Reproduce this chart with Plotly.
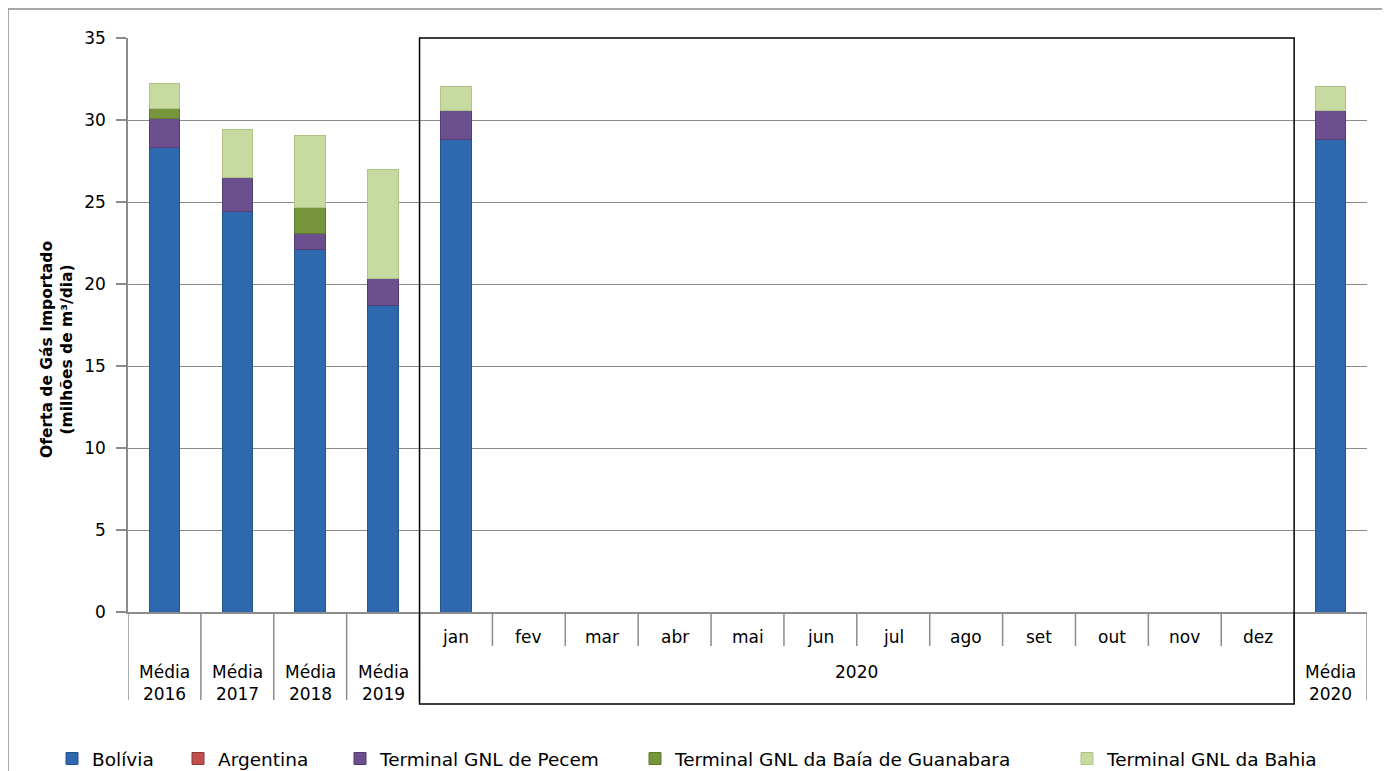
import plotly.graph_objects as go

categories = ["Média 2016", "Média 2017", "Média 2018", "Média 2019",
              "jan", "fev", "mar", "abr", "mai", "jun", "jul", "ago",
              "set", "out", "nov", "dez", "Média 2020"]
month_labels = ["jan", "fev", "mar", "abr", "mai", "jun", "jul", "ago",
                "set", "out", "nov", "dez"]
media_labels = ["Média<br>2016", "Média<br>2017", "Média<br>2018", "Média<br>2019"]
media_2020_label = "Média<br>2020"
group_label = "2020"
y_title = "<b>Oferta de Gás Importado<br>(milhões de m³/dia)</b>"

bolivia = [28.3, 24.4, 22.1, 18.7, 28.8, 0, 0, 0, 0, 0, 0, 0, 0, 0, 0, 0, 28.8]
argentina = [0, 0, 0, 0, 0, 0, 0, 0, 0, 0, 0, 0, 0, 0, 0, 0, 0]
pecem = [1.8, 2.1, 0.95, 1.65, 1.75, 0, 0, 0, 0, 0, 0, 0, 0, 0, 0, 0, 1.75]
guanabara = [0.6, 0, 1.6, 0, 0, 0, 0, 0, 0, 0, 0, 0, 0, 0, 0, 0, 0]
bahia = [1.5, 2.95, 4.4, 6.65, 1.5, 0, 0, 0, 0, 0, 0, 0, 0, 0, 0, 0, 1.5]

series = [
    ("Bolívia", bolivia, "#2E69B0", "#24558F"),
    ("Argentina", argentina, "#C0504D", "#8C3836"),
    ("Terminal GNL de Pecem", pecem, "#6B4F8E", "#533C70"),
    ("Terminal GNL da Baía de Guanabara", guanabara, "#77953B", "#5E7A2E"),
    ("Terminal GNL da Bahia", bahia, "#C7DA9F", "#AFC288"),
]
legend_marker_px = [67, 193, 355, 650, 1082]

FONT = "DejaVu Sans"
OFF = 8  # page body margin
PL, PR, PT, PB = 128, 1367, 38, 612  # plot area in page pixels
W, H = 1390 - OFF, 771 - OFF
PW = PR - PL
PH = PB - PT


def py(pix):
    return (PB - pix) / PH


def px(pix):
    return (pix - PL) / PW


fig = go.Figure()
for k, (name, vals, col, edge) in enumerate(series):
    fig.add_trace(go.Bar(
        x=categories, y=vals, name=name,
        marker=dict(color=col, line=dict(color=edge, width=1)),
        width=0.42,
        legend="legend" if k == 0 else f"legend{k + 1}",
    ))

shapes = []
annotations = []
n = len(categories)
for k in range(n + 1):
    xb = k - 0.5
    y_end = py(646) if 4 < k < 16 else py(700)
    shapes.append(dict(type="line", xref="x", yref="paper", x0=xb, x1=xb,
                       y0=0, y1=y_end, line=dict(color="#8C8C8C", width=1.5)))

lab_font = dict(family=FONT, size=17, color="#000")
for i, m in enumerate(month_labels):
    annotations.append(dict(x=categories[4 + i], y=py(637), xref="x", yref="paper",
                            text=m, showarrow=False, yanchor="middle",
                            font=lab_font))
for i, m in enumerate(media_labels):
    annotations.append(dict(x=categories[i], y=py(683), xref="x", yref="paper",
                            text=m, showarrow=False, yanchor="middle",
                            font=lab_font))
annotations.append(dict(x=categories[16], y=py(683), xref="x", yref="paper",
                        text=media_2020_label, showarrow=False, yanchor="middle",
                        font=lab_font))
annotations.append(dict(x=9.5, y=py(672), xref="x", yref="paper",
                        text=group_label, showarrow=False, yanchor="middle",
                        font=lab_font))
annotations.append(dict(x=px(57), y=py(350), xref="paper", yref="paper",
                        text=y_title, showarrow=False, textangle=-90,
                        xanchor="center", yanchor="middle",
                        font=dict(family=FONT, size=15.5, color="#000")))

shapes.append(dict(type="rect", xref="x", yref="paper", x0=3.5, x1=15.5,
                   y0=py(704), y1=1, line=dict(color="#000000", width=1.5)))
shapes.append(dict(type="rect", xref="paper", yref="paper", x0=px(8), x1=px(1384),
                   y0=py(790), y1=py(9), line=dict(color="#8C8C8C", width=1.5),
                   layer="below"))

legend_font = dict(family=FONT, size=18.5, color="#000")
layout_legends = {}
for k, mx in enumerate(legend_marker_px):
    key = "legend" if k == 0 else f"legend{k + 1}"
    layout_legends[key] = dict(orientation="h", x=px(mx - 15), y=py(759),
                               xanchor="left", yanchor="middle",
                               font=legend_font, itemwidth=30,
                               bgcolor="rgba(0,0,0,0)")

fig.update_layout(
    width=W, height=H,
    margin=dict(l=PL - OFF, r=1390 - PR, t=PT - OFF, b=771 - PB, autoexpand=False),
    barmode="stack",
    paper_bgcolor="white", plot_bgcolor="white",
    font=dict(family=FONT, size=17, color="#000"),
    shapes=shapes, annotations=annotations,
    showlegend=True,
    xaxis=dict(type="category", range=[-0.5, 16.5], showticklabels=False,
               showline=True, linecolor="#8C8C8C", linewidth=1.5, ticks="",
               showgrid=False, zeroline=False),
    yaxis=dict(range=[0, 35], dtick=5, showgrid=True, gridcolor="#8C8C8C",
               gridwidth=1, showline=True, linecolor="#8C8C8C", linewidth=1.5,
               ticks="outside", ticklen=10, tickcolor="#8C8C8C", tickwidth=1.5,
               ticklabelstandoff=7,
               zeroline=False, tickfont=dict(family=FONT, size=17, color="#000")),
    **layout_legends,
)

fig.write_html("out.html")
